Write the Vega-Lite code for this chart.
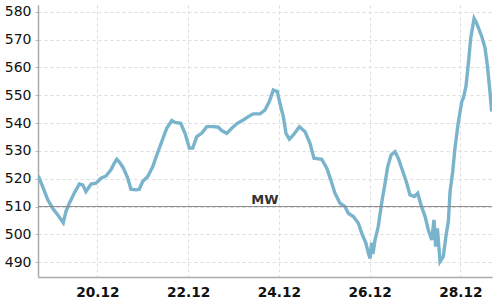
{
  "$schema": "https://vega.github.io/schema/vega-lite/v6.json",
  "autosize": {"type": "none"},
  "width": 454,
  "height": 272,
  "padding": {"left": 38, "top": 5, "right": 8, "bottom": 23},
  "background": "white",
  "config": {
    "view": {"stroke": null},
    "font": "DejaVu Sans",
    "axisY": {
      "grid": true,
      "gridColor": "#dddddd",
      "gridDash": [3, 3],
      "gridWidth": 1,
      "domainColor": "#aaaaaa",
      "domainWidth": 1.5,
      "ticks": true,
      "tickSize": 3,
      "tickColor": "#bbbbbb",
      "labelFont": "DejaVu Sans",
      "labelFontSize": 14,
      "labelColor": "#111111",
      "labelPadding": 4,
      "labelOverlap": false,
      "labelFlush": false,
      "title": null
    },
    "axisX": {
      "grid": true,
      "gridColor": "#dddddd",
      "gridDash": [3, 3],
      "gridWidth": 1,
      "domainColor": "#aaaaaa",
      "domainWidth": 1.5,
      "ticks": false,
      "labelFont": "DejaVu Sans",
      "labelFontSize": 13.7,
      "labelFontWeight": "bold",
      "labelColor": "#111111",
      "labelPadding": 8,
      "labelFlush": false,
      "labelOverlap": false,
      "title": null
    }
  },
  "datasets": {
    "series": [
      {"t": "2023-12-18T16:48:00", "v": 521},
      {"t": "2023-12-18T19:06:00", "v": 517.2},
      {"t": "2023-12-18T21:48:00", "v": 512.4},
      {"t": "2023-12-19T00:24:00", "v": 509.4},
      {"t": "2023-12-19T03:06:00", "v": 507},
      {"t": "2023-12-19T04:18:00", "v": 505.8},
      {"t": "2023-12-19T06:00:00", "v": 504.2},
      {"t": "2023-12-19T07:24:00", "v": 508.2},
      {"t": "2023-12-19T09:12:00", "v": 511.2},
      {"t": "2023-12-19T11:48:00", "v": 514.8},
      {"t": "2023-12-19T14:30:00", "v": 518.1},
      {"t": "2023-12-19T16:18:00", "v": 517.8},
      {"t": "2023-12-19T18:00:00", "v": 515.4},
      {"t": "2023-12-19T20:42:00", "v": 518.1},
      {"t": "2023-12-19T23:18:00", "v": 518.4},
      {"t": "2023-12-20T02:00:00", "v": 520.2},
      {"t": "2023-12-20T04:36:00", "v": 521},
      {"t": "2023-12-20T07:12:00", "v": 523.2},
      {"t": "2023-12-20T09:00:00", "v": 525.6},
      {"t": "2023-12-20T10:18:00", "v": 527},
      {"t": "2023-12-20T11:36:00", "v": 526.1},
      {"t": "2023-12-20T13:48:00", "v": 523.8},
      {"t": "2023-12-20T16:06:00", "v": 520.2},
      {"t": "2023-12-20T17:48:00", "v": 516.2},
      {"t": "2023-12-20T20:30:00", "v": 516},
      {"t": "2023-12-20T22:12:00", "v": 516.2},
      {"t": "2023-12-21T00:00:00", "v": 519},
      {"t": "2023-12-21T02:42:00", "v": 520.8},
      {"t": "2023-12-21T05:18:00", "v": 524.3},
      {"t": "2023-12-21T07:06:00", "v": 527.8},
      {"t": "2023-12-21T10:06:00", "v": 533.3},
      {"t": "2023-12-21T12:42:00", "v": 538.1},
      {"t": "2023-12-21T15:24:00", "v": 540.9},
      {"t": "2023-12-21T17:06:00", "v": 540.2},
      {"t": "2023-12-21T20:06:00", "v": 539.9},
      {"t": "2023-12-21T22:24:00", "v": 536.3},
      {"t": "2023-12-22T00:42:00", "v": 531},
      {"t": "2023-12-22T02:30:00", "v": 531},
      {"t": "2023-12-22T04:36:00", "v": 535.1},
      {"t": "2023-12-22T07:12:00", "v": 536.3},
      {"t": "2023-12-22T09:54:00", "v": 538.7},
      {"t": "2023-12-22T13:24:00", "v": 538.7},
      {"t": "2023-12-22T16:00:00", "v": 538.5},
      {"t": "2023-12-22T17:48:00", "v": 537.3},
      {"t": "2023-12-22T20:30:00", "v": 536.3},
      {"t": "2023-12-22T23:06:00", "v": 538.1},
      {"t": "2023-12-23T02:06:00", "v": 539.9},
      {"t": "2023-12-23T05:12:00", "v": 541.1},
      {"t": "2023-12-23T07:54:00", "v": 542.3},
      {"t": "2023-12-23T10:30:00", "v": 543.3},
      {"t": "2023-12-23T14:06:00", "v": 543.3},
      {"t": "2023-12-23T16:42:00", "v": 544.7},
      {"t": "2023-12-23T19:00:00", "v": 547.7},
      {"t": "2023-12-23T21:06:00", "v": 551.9},
      {"t": "2023-12-23T23:12:00", "v": 551.3},
      {"t": "2023-12-24T00:36:00", "v": 547.1},
      {"t": "2023-12-24T02:24:00", "v": 542.3},
      {"t": "2023-12-24T03:48:00", "v": 536.3},
      {"t": "2023-12-24T05:36:00", "v": 534.2},
      {"t": "2023-12-24T07:42:00", "v": 535.7},
      {"t": "2023-12-24T10:54:00", "v": 538.7},
      {"t": "2023-12-24T13:54:00", "v": 536.9},
      {"t": "2023-12-24T16:30:00", "v": 532.7},
      {"t": "2023-12-24T18:36:00", "v": 527.4},
      {"t": "2023-12-24T22:42:00", "v": 527},
      {"t": "2023-12-25T01:24:00", "v": 523.8},
      {"t": "2023-12-25T03:30:00", "v": 519.6},
      {"t": "2023-12-25T05:42:00", "v": 514.8},
      {"t": "2023-12-25T08:24:00", "v": 511.2},
      {"t": "2023-12-25T11:00:00", "v": 510},
      {"t": "2023-12-25T12:48:00", "v": 507.6},
      {"t": "2023-12-25T15:24:00", "v": 506.4},
      {"t": "2023-12-25T18:06:00", "v": 504},
      {"t": "2023-12-25T19:54:00", "v": 500.4},
      {"t": "2023-12-25T22:06:00", "v": 496.8},
      {"t": "2023-12-25T23:24:00", "v": 493.2},
      {"t": "2023-12-26T00:18:00", "v": 491.4},
      {"t": "2023-12-26T01:06:00", "v": 497},
      {"t": "2023-12-26T01:48:00", "v": 493},
      {"t": "2023-12-26T02:54:00", "v": 498},
      {"t": "2023-12-26T04:36:00", "v": 502.8},
      {"t": "2023-12-26T06:24:00", "v": 511.2},
      {"t": "2023-12-26T08:12:00", "v": 518.4},
      {"t": "2023-12-26T09:36:00", "v": 524.3},
      {"t": "2023-12-26T11:24:00", "v": 528.5},
      {"t": "2023-12-26T13:30:00", "v": 529.7},
      {"t": "2023-12-26T15:12:00", "v": 527.4},
      {"t": "2023-12-26T17:18:00", "v": 523.2},
      {"t": "2023-12-26T19:42:00", "v": 518.4},
      {"t": "2023-12-26T21:24:00", "v": 514.2},
      {"t": "2023-12-26T23:42:00", "v": 513.6},
      {"t": "2023-12-27T01:30:00", "v": 514.8},
      {"t": "2023-12-27T03:12:00", "v": 510.6},
      {"t": "2023-12-27T05:24:00", "v": 506.4},
      {"t": "2023-12-27T07:06:00", "v": 501.6},
      {"t": "2023-12-27T08:54:00", "v": 498},
      {"t": "2023-12-27T10:06:00", "v": 505.2},
      {"t": "2023-12-27T11:00:00", "v": 495.6},
      {"t": "2023-12-27T11:54:00", "v": 502.2},
      {"t": "2023-12-27T13:18:00", "v": 490.2},
      {"t": "2023-12-27T15:00:00", "v": 492},
      {"t": "2023-12-27T16:30:00", "v": 499.8},
      {"t": "2023-12-27T17:42:00", "v": 504.6},
      {"t": "2023-12-27T18:36:00", "v": 515.4},
      {"t": "2023-12-27T20:00:00", "v": 522.6},
      {"t": "2023-12-27T21:12:00", "v": 531},
      {"t": "2023-12-27T23:00:00", "v": 540.5},
      {"t": "2023-12-28T00:48:00", "v": 547.7},
      {"t": "2023-12-28T01:36:00", "v": 548.9},
      {"t": "2023-12-28T03:00:00", "v": 553.1},
      {"t": "2023-12-28T04:18:00", "v": 561.5},
      {"t": "2023-12-28T05:30:00", "v": 570.4},
      {"t": "2023-12-28T07:18:00", "v": 577.6},
      {"t": "2023-12-28T08:42:00", "v": 575.8},
      {"t": "2023-12-28T11:24:00", "v": 571},
      {"t": "2023-12-28T13:06:00", "v": 566.9},
      {"t": "2023-12-28T14:18:00", "v": 560.9},
      {"t": "2023-12-28T15:42:00", "v": 551.3},
      {"t": "2023-12-28T16:36:00", "v": 544.1}
    ],
    "mw": [
      {"t": "2023-12-23T16:42:00", "v": 510, "label": "MW"}
    ]
  },
  "layer": [
    {
      "data": {"name": "series"},
      "mark": {"type": "line", "color": "#7ab3cc", "strokeWidth": 3.4, "clip": true},
      "encoding": {
        "x": {
          "field": "t",
          "type": "temporal",
          "scale": {"domain": ["2023-12-18T16:38:00", "2023-12-28T16:47:00"], "nice": false},
          "axis": {
            "format": "%d.%m",
            "values": [
              {"year": 2023, "month": 12, "date": 20},
              {"year": 2023, "month": 12, "date": 22},
              {"year": 2023, "month": 12, "date": 24},
              {"year": 2023, "month": 12, "date": 26},
              {"year": 2023, "month": 12, "date": 28}
            ]
          }
        },
        "y": {
          "field": "v",
          "type": "quantitative",
          "scale": {"domain": [484.7, 582.4], "nice": false, "zero": false},
          "axis": {"values": [490, 500, 510, 520, 530, 540, 550, 560, 570, 580]}
        }
      }
    },
    {
      "data": {"name": "mw"},
      "mark": {"type": "rule", "color": "#888888", "strokeWidth": 1},
      "encoding": {
        "y": {
          "field": "v",
          "type": "quantitative",
          "axis": {"values": [490, 500, 510, 520, 530, 540, 550, 560, 570, 580]}
        }
      }
    },
    {
      "data": {"name": "mw"},
      "mark": {"type": "text", "font": "DejaVu Sans", "fontWeight": "bold", "fontSize": 13, "color": "#333333", "align": "center", "baseline": "alphabetic", "dy": -3},
      "encoding": {
        "x": {
          "field": "t",
          "type": "temporal",
          "axis": {
            "format": "%d.%m",
            "values": [
              {"year": 2023, "month": 12, "date": 20},
              {"year": 2023, "month": 12, "date": 22},
              {"year": 2023, "month": 12, "date": 24},
              {"year": 2023, "month": 12, "date": 26},
              {"year": 2023, "month": 12, "date": 28}
            ]
          }
        },
        "y": {
          "field": "v",
          "type": "quantitative",
          "axis": {"values": [490, 500, 510, 520, 530, 540, 550, 560, 570, 580]}
        },
        "text": {"field": "label"}
      }
    }
  ]
}
